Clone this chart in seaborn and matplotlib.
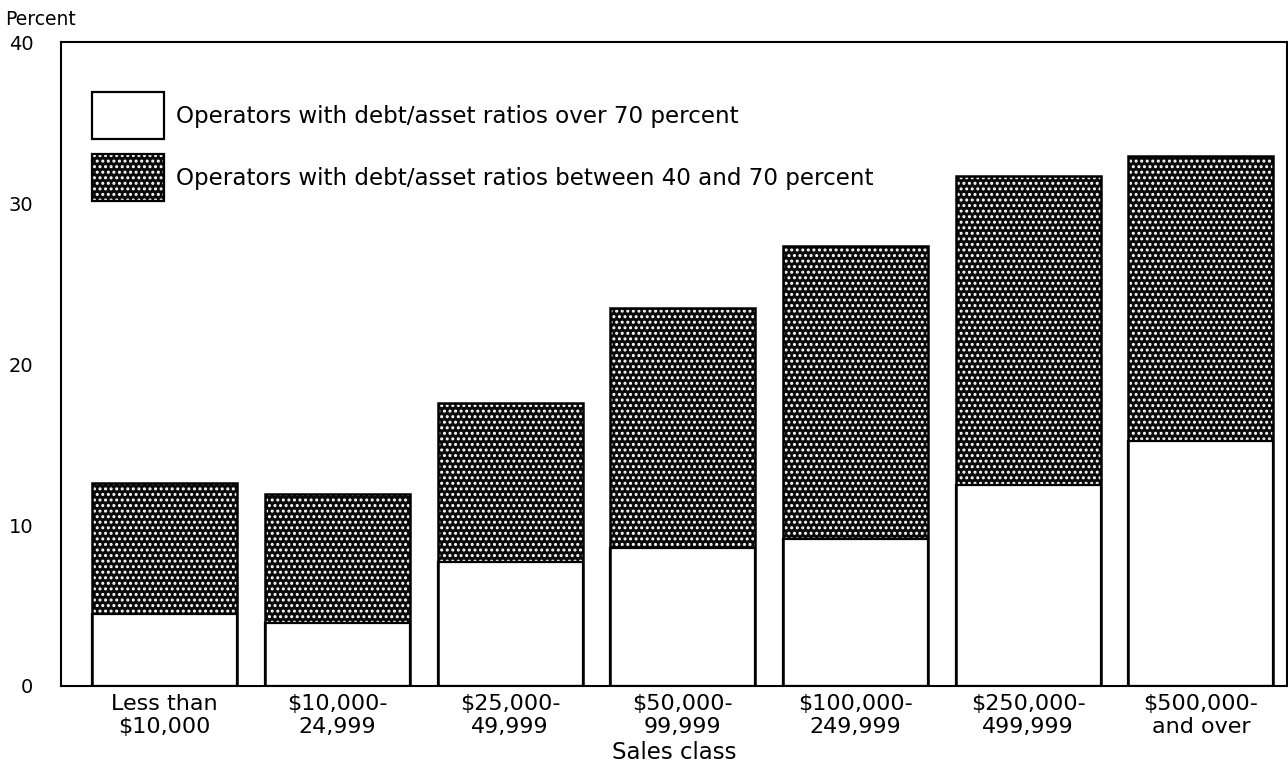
import pandas as pd
import matplotlib.pyplot as plt
import seaborn as sns
from matplotlib.patches import Patch

# Data (percent of operators)
sales_class = ["Less than\n$10,000", "$10,000-\n24,999", "$25,000-\n49,999", "$50,000-\n99,999",
               "$100,000-\n249,999", "$250,000-\n499,999", "$500,000-\nand over"]
over_70 = [4.5, 3.9, 7.7, 8.6, 9.1, 12.5, 15.2]
between_40_70 = [8.1, 8.0, 9.9, 14.9, 18.2, 19.2, 17.7]

df = pd.DataFrame({"kelas": sales_class, "over70": over_70, "mid": between_40_70})
df["total"] = df["over70"] + df["mid"]

sns.set_theme(style="white")
plt.rcParams["font.family"] = ["DejaVu Sans"]
plt.rcParams["text.color"] = "black"
plt.rcParams["xtick.color"] = "black"
plt.rcParams["ytick.color"] = "black"
plt.rcParams["axes.labelcolor"] = "black"
plt.rcParams["hatch.linewidth"] = 1.4

dark = "#0a0a0a"
pola = "..."
fig = plt.figure(figsize=(12.88, 7.74), dpi=100)
ax = fig.add_axes([0.0474, 0.1137, 0.952, 0.832])

# total bar (hatched dark part), white bottom, then black outline
sns.barplot(data=df, x="kelas", y="total", color=dark, width=0.84, ax=ax,
            edgecolor="white", linewidth=0, saturation=1)
for p in ax.patches:
    p.set_hatch(pola)
sns.barplot(data=df, x="kelas", y="over70", color="white", width=0.84, ax=ax,
            edgecolor="black", linewidth=1.6, saturation=1)
sns.barplot(data=df, x="kelas", y="total", fill=False, color="black", width=0.84, ax=ax,
            linewidth=1.8)

ax.set_xlim(-0.6, 6.5)
ax.set_ylim(0, 40)
ax.set_yticks([0, 10, 20, 30, 40])
ax.tick_params(axis="y", direction="in", length=11, width=1.5, pad=20, labelsize=14)
ax.tick_params(axis="x", length=0, pad=6, labelsize=16)
for lbl in ax.get_xticklabels():
    lbl.set_linespacing(1.15)
for s in ax.spines.values():
    s.set_visible(True)
    s.set_color("black")
    s.set_linewidth(1.5)

ax.set_xlabel("Sales class", fontsize=16.5, labelpad=3)
ax.set_ylabel("")
fig.text(0.004, 0.975, "Percent", fontsize=13.5, va="center", ha="left")

handles = [
    Patch(facecolor="white", edgecolor="black", linewidth=1.6),
    (Patch(facecolor=dark, edgecolor="white", hatch=pola, linewidth=0),
     Patch(fill=False, edgecolor="black", linewidth=1.6)),
]
labels = ["Operators with debt/asset ratios over 70 percent",
          "Operators with debt/asset ratios between 40 and 70 percent"]
ax.legend(handles=handles, labels=labels, loc="upper left", bbox_to_anchor=(0.025, 0.922),
          frameon=False, fontsize=16.6, handlelength=3.15, handleheight=2.75, labelspacing=0.66,
          handletextpad=0.5, borderaxespad=0, borderpad=0)

fig.savefig("out.png", dpi=100)
